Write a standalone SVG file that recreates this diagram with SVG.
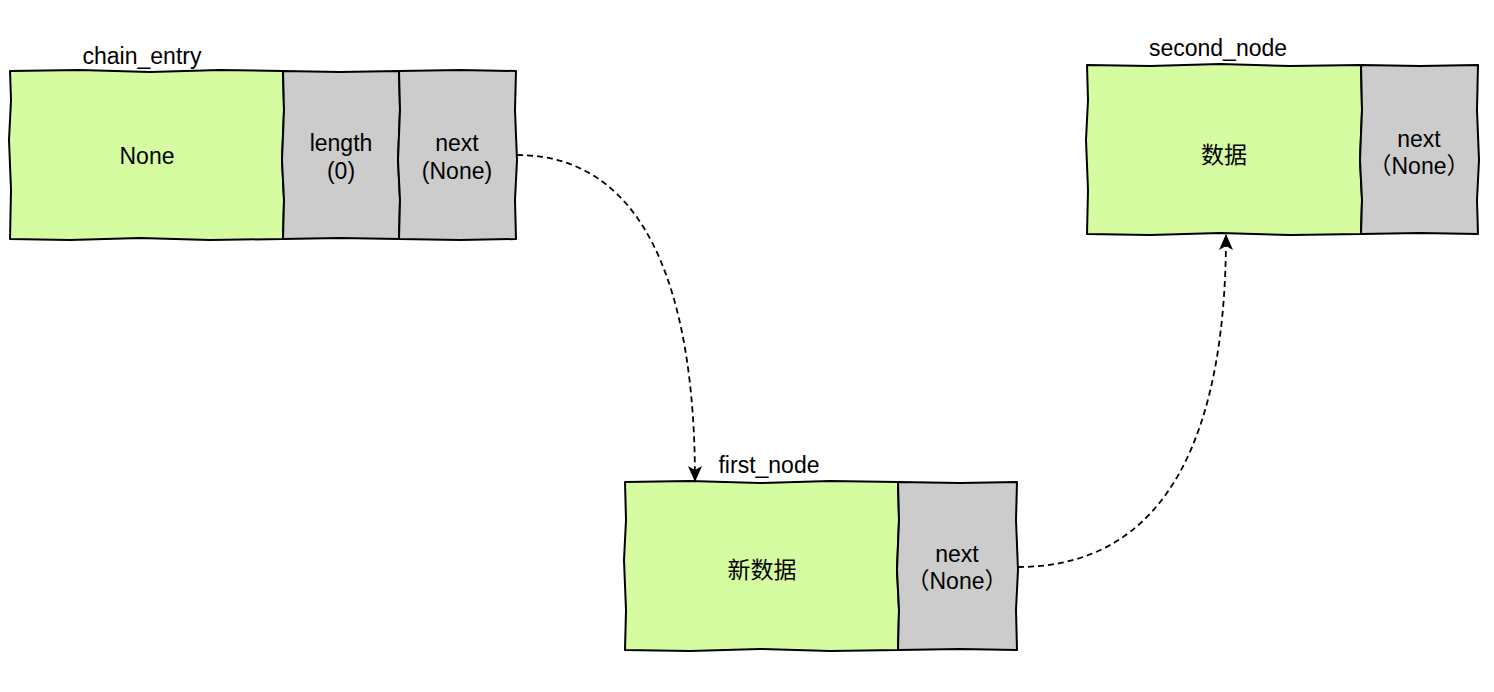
<svg xmlns="http://www.w3.org/2000/svg" width="1494" height="692" viewBox="0 0 1494 692">
<defs>
<style>
.g{fill:#d5fca0;stroke:#000;stroke-width:2;stroke-linejoin:round}
.y{fill:#cccccc;stroke:#000;stroke-width:2;stroke-linejoin:round}
.t{font-family:"Liberation Sans","Noto Sans CJK SC",Arial,sans-serif;font-size:23px;fill:#000;text-anchor:middle}
.l{font-family:"Liberation Sans",Arial,sans-serif;font-size:23px;fill:#000;text-anchor:middle}
.c{fill:none;stroke:#000;stroke-width:1.8;stroke-dasharray:6 4}
</style>
<marker id="ah" viewBox="0 0 16 14" refX="15" refY="7" markerWidth="16" markerHeight="14" markerUnits="userSpaceOnUse" orient="auto">
<path d="M0 0 L16 7 L0 14 L4 7 Z" fill="#000"/>
</marker>
</defs>
<rect width="1494" height="692" fill="#fff"/>
<g id="connectors">
<path class="c" d="M517 155 C 650 155, 695 300, 695 481" marker-end="url(#ah)"/>
<path class="c" d="M1018 567 C 1175 567, 1226 420, 1226 235" marker-end="url(#ah)"/>
</g>
<g id="chain_entry">
<text class="l" x="142" y="64">chain_entry</text>
<path class="g" d="M10 71 L80 70 L150 72 L220 70 L283 71 L284 110 L282 160 L284 200 L283 239 L210 240 L140 238 L70 240 L10 239 L11 190 L9 140 L11 100 Z"/>
<path class="y" d="M283 71 L340 72 L399 71 L400 110 L398 160 L400 200 L399 239 L340 238 L283 239 L284 200 L282 160 L284 110 Z"/>
<path class="y" d="M399 71 L460 70 L516 71 L515 110 L517 160 L515 200 L516 239 L460 240 L399 239 L400 200 L398 160 L400 110 Z"/>
<text class="t" x="147" y="164">None</text>
<text class="t" x="341" y="151">length</text>
<text class="t" x="341" y="179">(0)</text>
<text class="t" x="457" y="151">next</text>
<text class="t" x="457" y="179">(None)</text>
</g>
<g id="second_node">
<text class="l" x="1218" y="56">second_node</text>
<path class="g" d="M1087 65 L1150 66 L1220 64 L1290 66 L1361 65 L1362 110 L1360 160 L1362 200 L1361 234 L1290 235 L1220 233 L1150 235 L1087 234 L1088 190 L1086 140 L1088 100 Z"/>
<path class="y" d="M1361 65 L1420 66 L1478 65 L1477 110 L1479 160 L1477 200 L1478 234 L1420 233 L1361 234 L1362 200 L1360 160 L1362 110 Z"/>
<text class="t" x="1224" y="163">数据</text>
<text class="t" x="1419" y="147">next</text>
<text class="t" x="1419" y="174">（None）</text>
</g>
<g id="first_node">
<text class="l" x="769" y="473">first_node</text>
<path class="g" d="M625 482 L690 481 L760 483 L830 481 L898 482 L899 520 L897 570 L899 610 L898 650 L830 651 L760 649 L690 651 L625 650 L626 610 L624 560 L626 520 Z"/>
<path class="y" d="M898 482 L960 483 L1017 482 L1016 520 L1018 570 L1016 610 L1017 650 L960 649 L898 650 L899 610 L897 570 L899 520 Z"/>
<text class="t" x="762" y="578">新数据</text>
<text class="t" x="957" y="562">next</text>
<text class="t" x="957" y="589">（None）</text>
</g>
</svg>
